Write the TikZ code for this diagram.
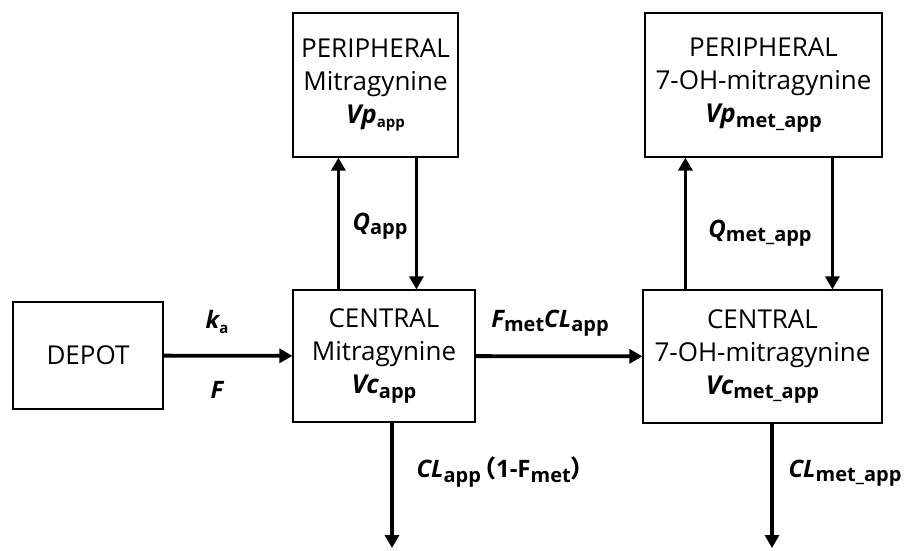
\documentclass[tikz,border=0pt]{standalone}
\usepackage{fontspec}
\setmainfont{Open Sans}
\newfontfamily\cjk[RawFeature=+halt]{Noto Sans CJK SC}
\usetikzlibrary{arrows.meta}

\newcommand{\bi}[1]{{\bfseries\itshape #1}}
\newcommand{\subi}[2][20]{\raisebox{-0.35ex}{\fontsize{#1}{#1}\selectfont\bfseries #2}}

\tikzset{
  caja/.style={draw, line width=1.2pt, align=center, inner sep=0pt,
    font=\fontsize{26}{33}\selectfont},
  flujo/.style={line width=3.8pt, -{Triangle[length=13pt,width=14pt]}},
  etiq/.style={font=\fontsize{24}{28}\selectfont}
}

\begin{document}
\begin{tikzpicture}[x=1pt,y=-1pt]
    \useasboundingbox (0,0) rectangle (913,550);

    % Compartimentos
    \node[caja, minimum width=150pt, minimum height=107pt] (depot) at (88,355.5) {DEPOT};
    \node[caja, minimum width=182pt, minimum height=132pt] (cent) at (384,356)
      {CENTRAL\\Mitragynine\\\bi{Vc}\subi{app}};
    \node[caja, minimum width=165pt, minimum height=144pt] (perif) at (375.5,85)
      {PERIPHERAL\\Mitragynine\\\bi{Vp}\subi[15]{app}};
    \node[caja, minimum width=239pt, minimum height=133pt] (centmet) at (762.5,356.5)
      {CENTRAL\\7-OH-mitragynine\\\bi{Vc}\subi{met\_app}};
    \node[caja, minimum width=237pt, minimum height=144pt] (perifmet) at (763.5,85)
      {PERIPHERAL\\7-OH-mitragynine\\\bi{Vp}\subi{met\_app}};

    % Salidas
    \coordinate (sal1) at (392,548);
    \coordinate (sal2) at (772,548);

    % Flujos
    \draw[flujo] (depot) -- (cent);
    \draw[flujo] (cent) -- (centmet);
    \draw[flujo] ([xshift=46pt]cent.north west) -- ([xshift=46pt]cent.north west |- perif.south);
    \draw[flujo] ([xshift=124pt]perif.south west) -- ([xshift=124pt]perif.south west |- cent.north);
    \draw[flujo] ([xshift=43pt]centmet.north west) -- ([xshift=43pt]centmet.north west |- perifmet.south);
    \draw[flujo] ([xshift=188pt]perifmet.south west) -- ([xshift=188pt]perifmet.south west |- centmet.north);
    \draw[flujo] (cent.south -| sal1) -- (sal1);
    \draw[flujo] (centmet.south -| sal2) -- (sal2);

    % Parametros
    \node[etiq] (ka) at (217,322) {\bi{k}\subi[15]{a}};
    \node[etiq] (biodisp) at (217,390) {\bi{F}};
    \node[etiq] (qapp) at (380,226) {\bi{Q}\subi{app}};
    \node[etiq] (fmet) at (550,323) {\bi{F}\subi{met}\bi{CL}\subi{app}};
    \node[etiq] (qmet) at (760,233) {\bi{Q}\subi{met\_app}};
    \node[etiq, anchor=west] (clapp) at (413,472)
      {\bi{CL}\subi{app}\kern3pt{\bfseries\cjk （}{\bfseries 1-F}\subi{met}{\bfseries\cjk ）}};
    \node[etiq, anchor=west] (clmet) at (785,473) {\bi{CL}\subi{met\_app}};
\end{tikzpicture}
\end{document}
